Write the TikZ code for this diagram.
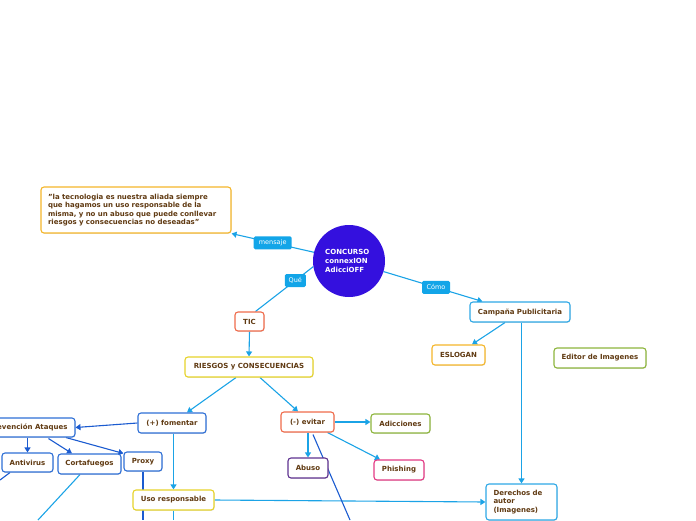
\documentclass[tikz,border=0pt]{standalone}
\usepackage{fontspec}
\setmainfont{DejaVu Sans}
\usetikzlibrary{arrows.meta,shadows,calc,backgrounds}
\definecolor{txt}{RGB}{96,58,18}
\definecolor{cyanl}{RGB}{27,163,230}
\definecolor{dblue}{RGB}{27,91,208}
\definecolor{lblc}{RGB}{18,165,232}
\definecolor{circ}{RGB}{52,16,222}
\definecolor{orangeb}{RGB}{245,182,42}
\definecolor{redb}{RGB}{239,107,75}
\definecolor{yellowb}{RGB}{230,211,42}
\definecolor{blueb}{RGB}{46,111,214}
\definecolor{cyanb}{RGB}{46,168,230}
\definecolor{greenb}{RGB}{141,181,60}
\definecolor{purpleb}{RGB}{94,50,144}
\definecolor{pinkb}{RGB}{227,58,132}
\begin{document}
\begin{tikzpicture}[x=1pt,y=-1pt,
  box/.style={draw, fill=white, rounded corners=3pt, line width=1.1pt,
    font=\fontsize{7}{8.6}\selectfont\bfseries, text=txt, inner sep=0pt, align=center,
    drop shadow={shadow xshift=0.6pt, shadow yshift=-0.9pt, opacity=0.22}},
  lbl/.style={fill=lblc, rounded corners=1.5pt, text=white,
    font=\fontsize{6.5}{7}\selectfont, minimum height=13pt, inner xsep=0pt, inner ysep=0pt},
  cy/.style={draw=cyanl, line width=1.1pt},
  db/.style={draw=dblue, line width=1.1pt},
  arr/.style={-{Triangle[length=5pt,width=6pt]}}]
\useasboundingbox (0,0) rectangle (696,520);

% nodes
\node[circle, fill=circ, minimum size=72pt, inner sep=0pt] (c) at (349,261) {};
\node[text=white, font=\fontsize{7}{9}\selectfont\bfseries, align=left, anchor=west, inner sep=0pt] (ctext) at (325,261) {CONCURSO\\connexION\\AdicciOFF};
\node[box, draw=orangeb, minimum width=190pt, minimum height=46pt, text width=176pt, align=left] (quote) at (136,210)
  {"la tecnologia es nuestra aliada siempre que hagamos un uso responsable de la misma, y no un abuso que puede conllevar riesgos y consecuencias no deseadas"};
\node[box, draw=redb, minimum width=29pt, minimum height=19pt] (tic) at (249.5,321.5) {TIC};
\node[box, draw=yellowb, minimum width=128pt, minimum height=20pt] (ries) at (249,367) {RIESGOS y CONSECUENCIAS};
\node[box, draw=blueb, minimum width=68pt, minimum height=20pt] (fom) at (172,423) {(+) fomentar};
\node[box, draw=redb, minimum width=53pt, minimum height=20pt] (evi) at (307.5,422) {(-) evitar};
\node[box, draw=blueb, minimum height=19pt, inner xsep=7.5pt, anchor=east] (prev) at (75.5,427.5) {Prevención Ataques};
\node[box, draw=blueb, minimum width=51pt, minimum height=19pt] (anti) at (27.5,462.5) {Antivirus};
\node[box, draw=blueb, minimum width=63pt, minimum height=20pt] (corta) at (89.5,464) {Cortafuegos};
\node[box, draw=blueb, minimum width=38pt, minimum height=19pt] (proxy) at (143,461.5) {Proxy};
\node[box, draw=yellowb, minimum width=81pt, minimum height=20pt] (uso) at (173.5,500) {Uso responsable};
\node[box, draw=cyanb, minimum width=100pt, minimum height=20pt] (camp) at (520,312) {Campaña Publicitaria};
\node[box, draw=orangeb, minimum width=53pt, minimum height=20pt] (eslo) at (458.5,355) {ESLOGAN};
\node[box, draw=greenb, minimum width=92pt, minimum height=20pt] (edit) at (600,358) {Editor de Imagenes};
\node[box, draw=cyanb, minimum width=71pt, minimum height=36pt, text width=56pt, align=left] (der) at (521.5,502) {Derechos de\\autor\\(Imagenes)};
\node[box, draw=greenb, minimum width=59pt, minimum height=19pt] (adic) at (400.5,423.5) {Adicciones};
\node[box, draw=purpleb, minimum width=40pt, minimum height=20pt] (abuso) at (308,468) {Abuso};
\node[box, draw=pinkb, minimum width=50pt, minimum height=20pt] (phish) at (399,470) {Phishing};

% free ends
\coordinate (antiend) at (0,480);
\coordinate (cortaend) at (38,520);
\coordinate (proxyend) at (143,520);
\coordinate (usoend) at (173.5,520);
\coordinate (eviend) at (350,520);

% connectors behind nodes
\begin{scope}[on background layer]
\draw[cy, arr] (c.166) -- node[lbl, minimum width=38pt, pos=0.5] (lmsg) {mensaje} (quote.south east);
\draw[cy] (c.189) -- node[lbl, minimum width=21pt, pos=0.31] (lque) {Qué} ($(tic.north)+(6,0)$);
\draw[cy, arr] (c.-17) -- node[lbl, minimum width=28pt, pos=0.53] (lcomo) {Cómo} ($(camp.north west)+(13,0)$);
\draw[cy, arr] (tic.south) -- (ries.north);
\draw[cy, arr] ($(ries.south)+(-13,0)$) -- ($(fom.north)+(15,0)$);
\draw[cy, arr] ($(ries.south)+(11,0)$) -- ($(evi.north)+(-9.5,0)$);
\draw[db, arr] (fom.west) -- (prev.east);
\draw[db, arr] (anti.north |- prev.south) -- (anti.north);
\draw[db, arr] ($(prev.south east)+(-27,1)$) -- ($(corta.north)+(-17.5,0)$);
\draw[db, arr] ($(prev.south east)+(-9.5,0)$) -- ($(proxy.north west)+(0,2)$);
\draw[db] ($(anti.south)+(-17.5,0)$) -- (antiend);
\draw[cy] ($(corta.south)+(-9.5,0)$) -- (cortaend);
\draw[db] (proxy.south) -- (proxyend);
\draw[cy, arr] (uso.north |- fom.south) -- (uso.north);
\draw[cy, arr] (uso.east) -- (der.west);
\draw[cy] (uso.south) -- (usoend);
\draw[cy, arr] ($(camp.south)+(-15,0)$) -- ($(eslo.north)+(13.5,0)$);
\draw[cy, arr] (der.north |- camp.south) -- (der.north);
\draw[cy, arr] (evi.east) -- (evi.east -| adic.west);
\draw[cy, arr] (abuso.north |- evi.south) -- (abuso.north);
\draw[cy, arr] ($(evi.south east)+(-7,0)$) -- ($(phish.north)+(-19,0)$);
\draw[db] ($(evi.south)+(5.5,2)$) -- (eviend);
\end{scope}
\end{tikzpicture}
\end{document}
